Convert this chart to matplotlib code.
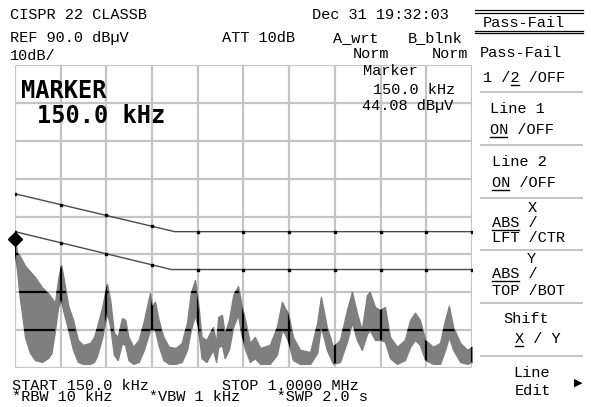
import numpy as np
import matplotlib
matplotlib.use("Agg")
import matplotlib.pyplot as plt
from matplotlib.lines import Line2D

W, H = 591, 407

# ---------------- data ----------------
freq_khz = [150, 153.7, 159.3, 163, 168.6, 177.9, 187.2, 200.2, 211.4, 218, 224.4, 230,
            235.6, 240, 249, 258, 267, 276.5, 289.5, 297, 302.5, 312, 321.1, 327, 334, 341,
            349, 355, 361, 370, 380, 389, 401.1, 405, 410.4, 417, 426, 436, 449, 460, 470,
            477, 484.8, 490, 497, 506, 518.3, 524, 528, 535, 540, 548, 556, 564.8, 571,
            577.8, 587, 596, 606, 624, 637, 646.6, 652, 658, 667, 680, 699, 712, 719, 730,
            741.5, 754.5, 767.5, 776.8, 786, 795, 804.7, 810, 819.6, 829, 838, 847.5,
            860.5, 875, 885, 894, 903, 913, 927.5, 940.5, 950, 957, 965, 978, 991, 1000]
trace_top = [44.1, 40.6, 39.5, 38.5, 37.0, 35.5, 34.0, 31.3, 29.8, 28.5, 27.2, 33.2,
             37.2, 34.0, 26.4, 22.7, 17.4, 16.1, 16.6, 18.2, 20.8, 26.0, 32.2, 28.0, 19.3, 18.2,
             23.2, 22.7, 18.2, 15.6, 17.4, 22.0, 29.8, 26.4, 27.5, 22.7, 18.2, 15.6, 15.3, 16.6, 22.0,
             29.8, 33.2, 28.0, 18.2, 17.4, 20.8, 16.6, 23.5, 24.0, 19.0, 22.7, 29.3, 31.6, 27.0,
             22.7, 16.6, 18.2, 15.3, 16.1, 20.8, 27.5, 25.8, 24.5, 18.2, 14.8, 14.2, 21.9, 28.8, 20.8,
             15.6, 17.4, 25.3, 30.1, 24.5, 20.0, 29.3, 30.0, 26.1, 25.3, 26.1, 18.2,
             15.6, 17.4, 22.7, 24.6, 22.7, 17.4, 15.6, 16.6, 22.7, 26.4, 20.8, 16.6, 14.8, 15.6]
trace_bot = [40.0, 36.0, 28.0, 24.5, 18.2, 14.0, 12.1, 11.6, 12.6, 14.0, 20.0, 26.0,
             28.0, 25.0, 20.0, 14.8, 11.6, 11.1, 11.1, 11.6, 13.2, 18.0, 24.5, 21.0, 13.5, 12.1,
             16.6, 16.0, 12.1, 11.1, 11.6, 14.5, 20.0, 20.0, 20.0, 16.0, 12.1, 11.1, 11.1, 11.6, 14.8,
             20.0, 24.0, 21.0, 12.6, 11.6, 14.8, 11.6, 15.5, 16.0, 12.6, 15.0, 21.0, 24.0, 19.0,
             15.0, 11.6, 12.6, 11.1, 11.1, 13.5, 20.0, 19.0, 17.0, 12.1, 11.1, 11.1, 14.0, 21.0, 14.8,
             11.1, 11.6, 17.0, 22.0, 17.4, 14.8, 19.0, 20.0, 17.4, 17.4, 17.0, 12.6,
             11.1, 12.1, 15.6, 17.4, 16.1, 12.1, 11.1, 11.1, 14.8, 18.2, 14.8, 11.6, 11.1, 11.6]

limit1_f = [150, 447, 1000]
limit1_db = [56.0, 46.0, 46.0]
limit2_f = [150, 441, 1000]
limit2_db = [46.0, 36.0, 36.0]

marker_f = 150.0
marker_db = 44.08

f_start, f_stop, n_xdiv = 150.0, 1000.0, 10
ref_db, db_div, n_ydiv = 90.0, 10.0, 8
bottom_db = ref_db - db_div * n_ydiv

# ---------------- figure ----------------
fig = plt.figure(figsize=(W / 100, H / 100), dpi=100)
fig.patch.set_facecolor("white")
ax = fig.add_axes([15 / W, (H - 368) / H, 457 / W, 303 / H])
ax.set_xlim(f_start, f_stop)
ax.set_ylim(bottom_db, ref_db)
ax.axis("off")

grid_f = np.linspace(f_start, f_stop, n_xdiv + 1)
grid_db = np.linspace(bottom_db, ref_db, n_ydiv + 1)
GRID = "#c4c4c4"
for g in grid_f:
    ax.axvline(g, color=GRID, lw=1.6, zorder=1)
for g in grid_db:
    ax.axhline(g, color=GRID, lw=1.6, zorder=1)

poly = ax.fill_between(freq_khz, trace_bot, trace_top, color="#7f7f7f",
                       edgecolor="#7f7f7f", lw=1.0, zorder=2)
clip = poly.get_paths()[0]
for g in grid_f:
    ln = ax.axvline(g, color="black", lw=1.6, zorder=3)
    ln.set_clip_path(clip, ax.transData)
for g in grid_db:
    ln = ax.axhline(g, color="black", lw=1.6, zorder=3)
    ln.set_clip_path(clip, ax.transData)

LIM = "#4a4a4a"
ax.plot(limit1_f, limit1_db, color=LIM, lw=1.0, zorder=4)
ax.plot(limit2_f, limit2_db, color=LIM, lw=1.0, zorder=4)
ax.plot(grid_f, np.interp(grid_f, limit1_f, limit1_db), ls="none", marker="s",
        ms=1.6, color="black", zorder=4)
ax.plot(grid_f, np.interp(grid_f, limit2_f, limit2_db), ls="none", marker="s",
        ms=1.6, color="black", zorder=4)

ax.plot([marker_f], [marker_db], marker="D", ms=7.5, color="black",
        clip_on=False, zorder=6)

# ---------------- text ----------------
MONO = "Liberation Mono"
FS = 11
PITCH = 0.6 * FS * 100 / 72


def txt(x, y, s, size=FS, weight="normal", family=MONO, ls=1.2):
    fig.text(x / W, 1 - y / H, s, fontsize=size, family=family, weight=weight,
             ha="left", va="baseline", color="black", linespacing=ls)


def hline(x0, x1, y, color="black", lw=1.0):
    fig.add_artist(Line2D([x0 / W, x1 / W], [1 - y / H, 1 - y / H],
                          color=color, lw=lw, transform=fig.transFigure))


def underline(x, y, i0, n):
    hline(x + i0 * PITCH, x + (i0 + n) * PITCH - 1, y + 3)


txt(10, 19, "CISPR 22 CLASSB")
txt(312, 19, "Dec 31 19:32:03")
txt(10, 42, "REF 90.0 dBµV")
txt(222, 42, "ATT 10dB")
txt(333, 42, "A_wrt")
txt(408, 42, "B_blnk")
txt(10, 60, "10dB/")
txt(353, 58, "Norm")
txt(432, 58, "Norm")

txt(363, 75, "Marker")
txt(373, 94, "150.0 kHz")
txt(362, 110, "44.08 dBµV")

txt(21, 98, "MARKER", size=17, weight="bold", family="DejaVu Sans Mono")
txt(37, 123, "150.0 kHz", size=17, weight="bold", family="DejaVu Sans Mono")

# bottom status block (two lines, fixed-pitch columns); anchored on last baseline
txt(12, 401, "START 150.0 kHz        STOP 1.0000 MHz\n"
             "*RBW 10 kHz    *VBW 1 kHz    *SWP 2.0 s", ls=0.72)

# soft-key panel
for yy in (10, 12.7, 30.7, 33.3):
    hline(475, 583, yy, lw=0.9)
txt(483, 27, "Pass-Fail")
txt(480, 57, "Pass-Fail")
txt(483, 82, "1 /2 /OFF")
underline(483, 82, 3, 1)
for yy in (92, 145, 198, 250, 303, 356):
    hline(481, 582, yy, color=GRID, lw=1.4)
txt(490, 113, "Line 1")
txt(490, 134, "ON /OFF")
underline(490, 134, 0, 2)
txt(492, 166, "Line 2")
txt(492, 187, "ON /OFF")
underline(492, 187, 0, 2)
txt(528, 212, "X")
txt(492, 227, "ABS /")
underline(492, 227, 0, 3)
txt(492, 242, "LFT /CTR")
txt(527, 263, "Y")
txt(492, 278, "ABS /")
underline(492, 278, 0, 3)
txt(492, 295, "TOP /BOT")
txt(503, 323, "Shift")
txt(515, 343, "X / Y")
underline(515, 343, 0, 1)
txt(513, 377, "Line")
txt(515, 395, "Edit")
fig.text(574 / W, 1 - 386 / H, "\u25B6", fontsize=8, family="DejaVu Sans",
         ha="left", va="baseline", color="black")

fig.savefig("out.png", dpi=100, facecolor="white")
